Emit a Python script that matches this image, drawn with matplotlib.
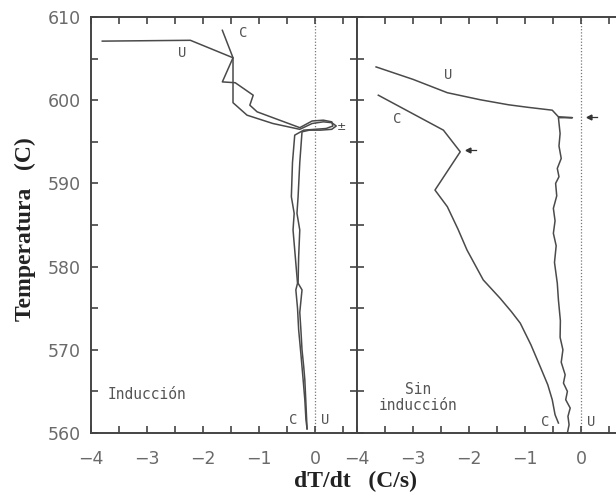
import matplotlib
matplotlib.use("Agg")
import matplotlib.pyplot as plt
from matplotlib.ticker import MultipleLocator, FixedLocator

# --- Inducción panel -------------------------------------------------------
ind_u_rate = [-3.79, -2.22, -1.46, -1.46, -1.46, -1.21, -0.75, -0.27,
              -0.05, 0.15, 0.30, 0.38, 0.30, 0.10, -0.10, -0.23,
              -0.27, -0.30, -0.32, -0.27, -0.29, -0.30, -0.23,
              -0.27, -0.25, -0.23, -0.20, -0.18, -0.16, -0.14]
ind_u_temp = [607.1, 607.2, 605.1, 602.2, 599.7, 598.2, 597.2, 596.5,
              597.2, 597.4, 597.3, 596.9, 596.5, 596.4, 596.4, 596.2,
              592.5, 588.4, 586.4, 584.4, 581.2, 578.0,
              577.2, 574.5, 572.4, 570.0, 568.0, 566.4, 563.5, 560.5]

ind_c_rate = [-1.65, -1.46, -1.65, -1.42, -1.10, -1.16, -1.03, -0.27,
              -0.05, 0.15, 0.30, 0.32, 0.20, 0.00, -0.20, -0.36,
              -0.40, -0.42, -0.37, -0.39, -0.35, -0.31,
              -0.34, -0.31, -0.29, -0.25, -0.21, -0.18, -0.16, -0.14]
ind_c_temp = [608.4, 605.1, 602.2, 602.1, 600.6, 599.4, 598.6, 596.7,
              597.5, 597.6, 597.4, 596.9, 596.6, 596.5, 596.4, 595.8,
              592.5, 588.4, 586.4, 584.4, 581.2, 578.0,
              577.2, 575.0, 572.4, 569.5, 566.4, 564.0, 561.6, 560.5]

# --- Sin inducción panel ---------------------------------------------------
sin_u_rate = [-3.66, -3.00, -2.39, -1.80, -1.30, -0.96, -0.52, -0.41,
              -0.16, -0.41, -0.38, -0.40, -0.36, -0.43, -0.40, -0.46,
              -0.44, -0.50, -0.47, -0.50, -0.45, -0.48, -0.43, -0.41,
              -0.375, -0.38, -0.33, -0.36, -0.29, -0.32, -0.25, -0.28,
              -0.20, -0.24, -0.22, -0.25]
sin_u_temp = [604.0, 602.5, 600.9, 600.05, 599.45, 599.15, 598.8, 598.0,
              597.9, 597.9, 596.0, 594.5, 593.0, 591.8, 590.8, 590.0,
              588.5, 587.0, 585.5, 584.0, 582.5, 580.5, 578.0, 576.0,
              573.5, 571.5, 570.0, 568.5, 567.0, 566.0, 565.0, 564.0,
              563.0, 562.0, 561.0, 560.0]

sin_c_rate = [-3.62, -2.46, -2.16, -2.61, -2.39, -2.20, -2.04,
              -1.75, -1.45, -1.25, -1.09, -0.90, -0.73, -0.60, -0.52,
              -0.47, -0.41]
sin_c_temp = [600.6, 596.4, 593.8, 589.2, 587.2, 584.5, 582.0,
              578.4, 576.2, 574.6, 573.2, 570.6, 567.9, 565.8, 564.0,
              562.2, 561.2]

x_ticks = [-4, -3, -2, -1, 0]
y_ticks = [560, 570, 580, 590, 600, 610]

line_color = "#4a4a4a"
text_color = "#555555"

fig = plt.figure(figsize=(6.16, 4.94), dpi=100)
panel_w = 266.5 / 616
ax_l = fig.add_axes([90.5 / 616, 1 - 433 / 494, panel_w, (433 - 17) / 494])
ax_r = fig.add_axes([357 / 616, 1 - 433 / 494, panel_w, (433 - 17) / 494])

for ax in (ax_l, ax_r):
    ax.set_xlim(-4, 0.75)
    ax.set_ylim(560, 610)
    ax.axvline(0, color="#777777", lw=0.9, ls=(0, (1, 1.5)), zorder=1)
    ax.xaxis.set_major_locator(FixedLocator(x_ticks))
    ax.xaxis.set_minor_locator(MultipleLocator(0.5))
    ax.yaxis.set_major_locator(FixedLocator(y_ticks))
    ax.yaxis.set_minor_locator(MultipleLocator(5))
    ax.tick_params(which="both", direction="in", top=True, right=True,
                   length=5, width=1.2, color="#444444",
                   labelsize=12.5, labelcolor="#6a6a6a")
    ax.tick_params(axis="y", which="both", pad=7)
    ax.tick_params(axis="x", which="both", pad=12)
    for sp in ax.spines.values():
        sp.set_color("#444444")
        sp.set_linewidth(1.4)
    ax.set_xticklabels([f"\u2212{abs(v)}" if v < 0 else f"{v}" for v in x_ticks])

ax_r.tick_params(labelleft=False)

# Inducción curves
ax_l.plot(ind_u_rate, ind_u_temp, color=line_color, lw=1.1)
ax_l.plot(ind_c_rate, ind_c_temp, color=line_color, lw=1.1)
ax_l.text(0.48, 596.8, "\u00b1", fontsize=8, color="#333333",
          ha="center", va="center")

# Sin inducción curves
ax_r.plot(sin_u_rate, sin_u_temp, color=line_color, lw=1.1)
ax_r.plot(sin_c_rate, sin_c_temp, color=line_color, lw=1.1)
for (xm, ym) in [(0.13, 598.0), (-2.02, 594.0)]:
    ax_r.plot([xm, xm + 0.14], [ym, ym], color="#333333", lw=0.9)
    ax_r.plot([xm], [ym], marker="<", ms=3.5, color="#333333")

label_kw = dict(fontsize=10, color=text_color, family="DejaVu Sans Mono",
                ha="center", va="center")
ax_l.text(-2.37, 605.7, "U", **label_kw)
ax_l.text(-1.28, 608.1, "C", **label_kw)
ax_l.text(-0.39, 561.6, "C", **label_kw)
ax_l.text(0.18, 561.6, "U", **label_kw)
ax_l.text(-3.70, 564.6, "Inducción", fontsize=10.5, color=text_color,
          family="DejaVu Sans Mono", ha="left", va="center")

ax_r.text(-2.38, 603.0, "U", **label_kw)
ax_r.text(-3.29, 597.8, "C", **label_kw)
ax_r.text(-0.64, 561.3, "C", **label_kw)
ax_r.text(0.18, 561.3, "U", **label_kw)
ax_r.text(-2.91, 564.3, "Sin\ninducción", fontsize=10.5, color=text_color,
          family="DejaVu Sans Mono", ha="center", va="center",
          linespacing=1.05)

fig.text(25 / 616, 1 - 229 / 494, "Temperatura   (C)", rotation=90,
         ha="center", va="center", fontsize=17, fontweight="bold",
         family="Liberation Serif", color="#222222")
fig.text(356 / 616, 1 - 481 / 494, "dT/dt   (C/s)", ha="center",
         va="center", fontsize=17, fontweight="bold",
         family="Liberation Serif", color="#222222")

fig.savefig("out.png", dpi=100)
